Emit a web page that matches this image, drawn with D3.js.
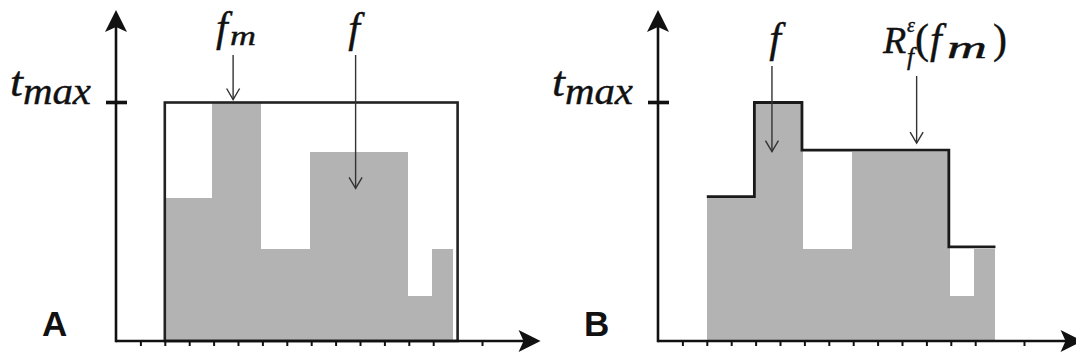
<!DOCTYPE html>
<html>
<head>
<meta charset="utf-8">
<script src="https://cdn.jsdelivr.net/npm/d3@7"></script>
<style>
	body { margin: 0; background: #fff }
	svg { display: block; background: #fff }
	.math { font-family: 'Liberation Serif', 'Times New Roman', serif; font-style: italic; fill: #111; stroke: #111; stroke-width: 0.4 }
	.upright { font-style: normal }
	.panel-label { font-family: 'Liberation Sans', Arial, sans-serif; font-weight: bold; font-size: 35px; fill: #111 }
	.tick line { stroke: #111; stroke-width: 2 }
</style>
</head>
<body>
<svg id="chart" width="1076" height="360"></svg>
<script>
// f: one grey bar per interval [binEdges[i], binEdges[i+1]]
const binEdges = [2, 3.95, 5.9, 7.95, 11.92, 12.97, 13.83]
const fValues = [6, 10, 3.86, 7.92, 1.89, 3.86]
// R_f^eps(f_m): the stepped upper line of panel B, one value per bar
const envelopeValues = [6.05, 10, 8, 8, 3.95, 3.95]
const tMax = 10
const boxSpan = [2, 14]
const tickValues = [1, 2, 3, 4, 5, 6, 7, 8, 9, 10, 11, 12, 13, 15]
const panelNames = ['A', 'B']

const ink = '#111'
const grey = '#b3b3b3'
const axisBottom = 341
const unit = 24.4
const xMaxUnit = 17.4

const svg = d3.select('#chart')

function arrowHead(g, x, y, angle) {
	// filled arrow, tip at (x,y), pointing up when angle = 0
	g.append('path')
		.attr('d', 'M0,0 L11,22 L0,17 L-11,22 Z')
		.attr('transform', `translate(${x},${y}) rotate(${angle})`)
		.attr('fill', ink)
}

function pointer(g, x, y0, y1) {
	g.append('line')
		.attr('x1', x).attr('x2', x).attr('y1', y0).attr('y2', y1)
		.attr('stroke', '#333').attr('stroke-width', 1.4)
	g.append('path')
		.attr('d', `M${x - 6.5},${y1 - 11} L${x},${y1} L${x + 6.5},${y1 - 11}`)
		.attr('fill', 'none').attr('stroke', '#333').attr('stroke-width', 1.4)
}

class Panel
{
	constructor(originX, name) {
		this.name = name
		this.g = svg.append('g').attr('class', 'panel panel-' + name)
		this.x = d3.scaleLinear().domain([0, xMaxUnit]).range([originX, originX + xMaxUnit * unit])
		this.y = d3.scaleLinear().domain([0, tMax]).range([axisBottom, 102.5])
	}

	drawBars() {
		const {x, y} = this
		const last = fValues.length - 1
		const bins = fValues.map((v, i) => ({x0: binEdges[i], x1: binEdges[i + 1], v, i}))
		this.g.append('g').attr('class', 'bars')
			.attr('shape-rendering', 'crispEdges')
			.selectAll('rect').data(bins).enter()
			.append('rect')
			.attr('x', d => x(d.x0))
			.attr('width', d => x(d.x1) - x(d.x0) + (d.i < last ? 1 : 0))
			.attr('y', d => y(d.v))
			.attr('height', d => y(0) - y(d.v))
			.attr('fill', grey)
	}

	drawAxes() {
		const {x, y, g} = this
		const x0 = x(0)
		const axis = d3.axisBottom(x).tickValues(tickValues).tickSize(5).tickSizeOuter(0).tickFormat('')
		g.append('g').attr('class', 'xaxis')
			.attr('transform', `translate(0,${axisBottom})`)
			.call(axis)
			.call(s => s.select('.domain').remove())

		g.append('line')
			.attr('x1', x0).attr('x2', x(xMaxUnit) - 8)
			.attr('y1', axisBottom).attr('y2', axisBottom)
			.attr('stroke', ink).attr('stroke-width', 2.6)
		arrowHead(g, x(xMaxUnit), axisBottom, 90)

		g.append('line')
			.attr('x1', x0).attr('x2', x0)
			.attr('y1', axisBottom + 1.3).attr('y2', 20)
			.attr('stroke', ink).attr('stroke-width', 2.6)
		arrowHead(g, x0, 10, 0)

		// t_max tick and label
		g.append('line')
			.attr('x1', x0 - 10).attr('x2', x0 + 11)
			.attr('y1', y(tMax)).attr('y2', y(tMax))
			.attr('stroke', ink).attr('stroke-width', 3.6)
		const t = g.append('text').attr('class', 'math')
			.attr('x', x0 - 106).attr('y', y(tMax) - 7)
			.attr('textLength', 81).attr('lengthAdjust', 'spacingAndGlyphs')
		t.append('tspan').attr('font-size', 42).text('t')
		t.append('tspan').attr('font-size', 37).attr('dy', 8).text('max')

		g.append('text').attr('class', 'panel-label')
			.attr('x', x0 - 74).attr('y', 336)
			.text(this.name)
	}
}

const panelA = new Panel(116, panelNames[0])
panelA.drawBars()
panelA.g.append('rect')
	.attr('x', panelA.x(boxSpan[0]))
	.attr('y', panelA.y(tMax))
	.attr('width', panelA.x(boxSpan[1]) - panelA.x(boxSpan[0]))
	.attr('height', axisBottom - panelA.y(tMax))
	.attr('fill', 'none').attr('stroke', '#222').attr('stroke-width', 2.6)
panelA.drawAxes()

const panelB = new Panel(658, panelNames[1])
panelB.drawBars()
const envPoints = envelopeValues.map((v, i) => [binEdges[i], v])
envPoints.push([binEdges[binEdges.length - 1], envelopeValues[envelopeValues.length - 1]])
panelB.g.append('path')
	.datum(envPoints)
	.attr('d', d3.line().x(d => panelB.x(d[0])).y(d => panelB.y(d[1])).curve(d3.curveStepAfter))
	.attr('fill', 'none').attr('stroke', '#1a1a1a').attr('stroke-width', 2.8)
panelB.drawAxes()

// annotations for panel A
pointer(panelA.g, panelA.x(4.8), 55, panelA.y(tMax) - 3)
pointer(panelA.g, panelA.x(9.82), 55, panelA.y(6.4))
let lab = panelA.g.append('text').attr('class', 'math').attr('y', 41)
lab.append('tspan').attr('x', 216).attr('font-size', 42).text('f')
lab.append('tspan').attr('x', 230).attr('y', 45).attr('font-size', 28)
	.attr('textLength', 26).attr('lengthAdjust', 'spacingAndGlyphs').text('m')
panelA.g.append('text').attr('class', 'math')
	.attr('x', 354).attr('y', 42).attr('text-anchor', 'middle')
	.attr('font-size', 42).text('f')

// annotations for panel B
pointer(panelB.g, panelB.x(4.67), 66, panelB.y(7.94))
pointer(panelB.g, panelB.x(10.6), 76, panelB.y(8.3))
panelB.g.append('text').attr('class', 'math')
	.attr('x', 775).attr('y', 52).attr('text-anchor', 'middle')
	.attr('font-size', 42).text('f')
lab = panelB.g.append('text').attr('class', 'math').attr('y', 53)
lab.append('tspan').attr('x', 883).attr('font-size', 38).text('R')
lab.append('tspan').attr('x', 907).attr('y', 32).attr('font-size', 20).text('ε')
lab.append('tspan').attr('x', 907).attr('y', 65).attr('font-size', 25).text('f')
lab.append('tspan').attr('x', 915).attr('y', 53).attr('font-size', 42).attr('class', 'upright').text('(')
lab.append('tspan').attr('x', 930).attr('font-size', 42).text('f')
lab.append('tspan').attr('x', 947).attr('y', 58).attr('font-size', 32)
	.attr('textLength', 40).attr('lengthAdjust', 'spacingAndGlyphs').text('m')
lab.append('tspan').attr('x', 993).attr('y', 53).attr('font-size', 42).attr('class', 'upright').text(')')
</script>
</body>
</html>
